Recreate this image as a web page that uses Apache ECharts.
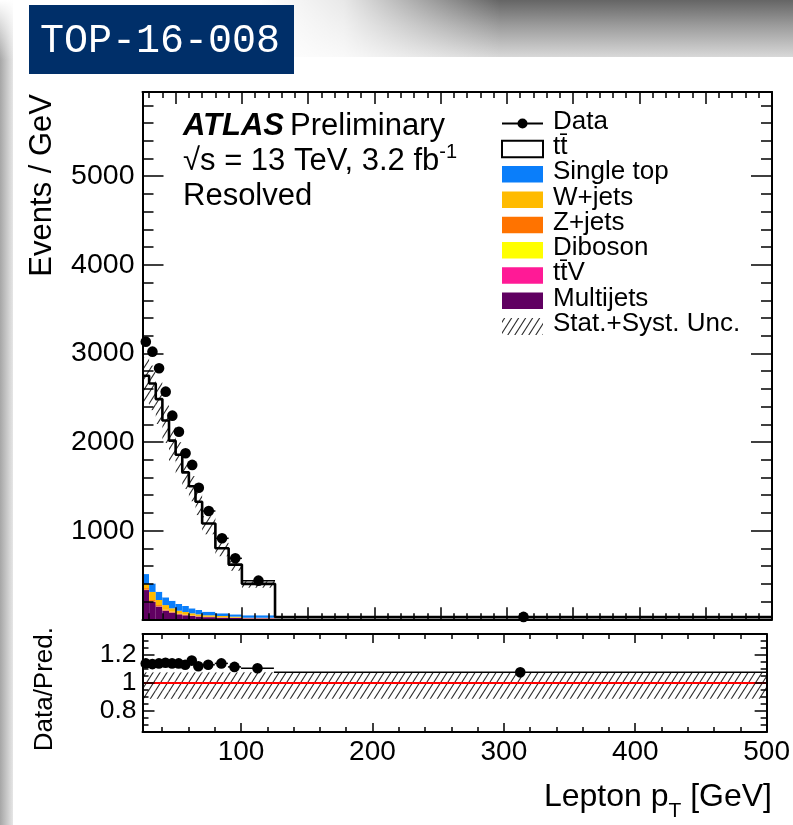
<!DOCTYPE html>
<html><head><meta charset="utf-8">
<script src="https://cdn.jsdelivr.net/npm/echarts@6/dist/echarts.min.js"></script>
<style>html,body{margin:0;padding:0;background:#fff;overflow:hidden}#c{width:793px;height:825px}</style>
</head><body><div id="c"></div>
<script>
// ---------------- data (per GeV) ----------------
const binEdges   = [25,30,35,40,45,50,55,60,65,70,80,90,100,125,500];
const dataVals   = [3133,3020,2833,2569,2298,2117,1874,1742,1485,1222,914,688,436,27];
const ttbar      = [2238,2256,2173,1996,1806,1684,1508,1378,1221,995,734,561,355,21.4];
const singleTop  = [113,96,94,87,86,76,68,56,49,41,31,26,27,2];
const wjets      = [45,92,57,50,38,32,29.5,24.5,20.7,16.6,15.5,11.6,6.2,0.8];
const zjets      = [18,18,14,10,8,6,5,4,3,3,2,2,1,0.2];
const diboson    = [2,2,1.5,1.5,1,1,1,1,0.8,0.6,0.5,0.4,0.3,0.05];
const ttV        = [2,2,2,2,2,2,1.5,1.5,1.5,1,1,1,0.5,0.05];
const multijets  = [330,195,143,97,75,56,45,37,30,24,18,15,10,0.5];
const uncUp      = [0.076,0.076,0.076,0.076,0.076,0.076,0.076,0.076,0.076,0.076,0.076,0.076,0.076,0.076];
const uncDown    = [0.113,0.113,0.113,0.113,0.113,0.113,0.113,0.113,0.113,0.113,0.113,0.113,0.113,0.113];
const ratioVals  = [1.14,1.135,1.14,1.145,1.14,1.14,1.13,1.16,1.12,1.13,1.14,1.115,1.105,1.076];
const xTickLabels     = [100,200,300,400,500];
const yTickLabels     = [1000,2000,3000,4000,5000];
const ratioTickLabels = [0.8,1,1.2];
const xMin = 25, xMax = 500, yMax = 5950, rMin = 0.65, rMax = 1.35;

// ---------------- helpers ----------------
const FONT = '"Liberation Sans", Arial, Helvetica, sans-serif';
function range(a, b, s){ const r=[]; for(let v=a; v<=b+1e-9; v+=s) r.push(Math.round(v*1000)/1000); return r; }

function makeHatch(){
  const w=7, h=11, c=document.createElement('canvas');
  c.width=w; c.height=h;
  const g=c.getContext('2d');
  g.strokeStyle='#2a2a2a'; g.lineWidth=1.1;
  for (const off of [-w,0,w]) {
    g.beginPath(); g.moveTo(off-1, h + h/w); g.lineTo(off+w+1, -h/w); g.stroke();
  }
  return {image:c, repeat:'repeat'};
}
const hatch = makeHatch();

function rectItem(style){
  return function(params, api){
    const p1 = api.coord([api.value(0), api.value(3)]);
    const p2 = api.coord([api.value(1), api.value(2)]);
    return {type:'rect', shape:{x:p1[0], y:p1[1], width:p2[0]-p1[0], height:p2[1]-p1[1]}, style:style};
  };
}
function pointItem(params, api){
  const c = api.coord([api.value(0), api.value(1)]);
  const a = api.coord([api.value(2), api.value(1)]);
  const b = api.coord([api.value(3), api.value(1)]);
  return {type:'group', children:[
    {type:'line', shape:{x1:a[0],y1:a[1],x2:b[0],y2:b[1]}, style:{stroke:'#000', lineWidth:1.5}},
    {type:'circle', shape:{cx:c[0], cy:c[1], r:5.3}, style:{fill:'#000'}}
  ]};
}

const nb = dataVals.length;
const comps = [
  {name:'Multijets',  vals:multijets, color:'#600061'},
  {name:'tt̄V',        vals:ttV,       color:'#ff1a96'},
  {name:'Diboson',    vals:diboson,   color:'#ffff00'},
  {name:'Z+jets',     vals:zjets,     color:'#ff7300'},
  {name:'W+jets',     vals:wjets,     color:'#ffbb00'},
  {name:'Single top', vals:singleTop, color:'#0a7efa'},
  {name:'tt̄',         vals:ttbar,     color:'#ffffff'}
];
const cum = new Array(nb).fill(0);
const series = [];
comps.forEach(c => {
  const d = [];
  for (let i=0;i<nb;i++){ const b=cum[i]; cum[i]+=c.vals[i]; d.push([binEdges[i], binEdges[i+1], b, cum[i]]); }
  series.push({type:'custom', name:c.name, xAxisIndex:0, yAxisIndex:0, silent:true, z:2,
    renderItem: rectItem({fill:c.color}), encode:{x:[0,1], y:[2,3]}, data:d});
});
const total = cum.slice();

// uncertainty band (main)
series.push({type:'custom', name:'Stat.+Syst. Unc.', xAxisIndex:0, yAxisIndex:0, silent:true, z:3,
  renderItem: rectItem({fill:hatch}), encode:{x:[0,1], y:[2,3]},
  data: total.map((t,i)=>[binEdges[i], binEdges[i+1], t*(1-uncDown[i]), t*(1+uncUp[i])])});

// MC outline
const outline = [];
total.forEach((t,i)=>{ outline.push([binEdges[i], t]); outline.push([binEdges[i+1], t]); });
series.push({type:'line', xAxisIndex:0, yAxisIndex:0, data:outline, symbol:'none', silent:true, z:4,
  lineStyle:{color:'#000', width:2.6}});

// data points
series.push({type:'custom', name:'Data', xAxisIndex:0, yAxisIndex:0, silent:true, z:5,
  renderItem: pointItem, encode:{x:[0,2,3], y:1},
  data: dataVals.map((v,i)=>[(binEdges[i]+binEdges[i+1])/2, v, binEdges[i], binEdges[i+1]])});

// ratio band
series.push({type:'custom', xAxisIndex:4, yAxisIndex:4, silent:true, z:3,
  renderItem: rectItem({fill:hatch}), encode:{x:[0,1], y:[2,3]},
  data: uncUp.map((u,i)=>[binEdges[i], binEdges[i+1], 1-uncDown[i], 1+u])});
// red line
series.push({type:'line', xAxisIndex:4, yAxisIndex:4, data:[[xMin,1],[xMax,1]], symbol:'none', silent:true, z:4,
  lineStyle:{color:'#ff0000', width:2.2}});
// ratio points
series.push({type:'custom', xAxisIndex:4, yAxisIndex:4, silent:true, z:5,
  renderItem: pointItem, encode:{x:[0,2,3], y:1},
  data: ratioVals.map((v,i)=>[(binEdges[i]+binEdges[i+1])/2, v, binEdges[i], binEdges[i+1]])});

// ---------------- axes ----------------
const black = '#000';
function xAx(grid, pos, ticks, len, line, labels){
  return {type:'value', gridIndex:grid, position:pos, min:xMin, max:xMax, z:10,
    axisLine:{show:line, onZero:false, lineStyle:{color:black, width:2}},
    axisTick:{show:true, inside:true, length:len, customValues:ticks, lineStyle:{color:black, width:1.5}},
    axisLabel: labels ? {show:true, customValues:labels, color:black, fontSize:28, fontFamily:FONT, margin:6} : {show:false},
    splitLine:{show:false}, minorTick:{show:false}};
}
function yAx(grid, pos, min, max, ticks, len, line, labels, margin, fs){
  return {type:'value', gridIndex:grid, position:pos, min:min, max:max, z:10,
    axisLine:{show:line, onZero:false, lineStyle:{color:black, width:2}},
    axisTick:{show:true, inside:true, length:len, customValues:ticks, lineStyle:{color:black, width:1.5}},
    axisLabel: labels ? {show:true, customValues:labels, color:black, fontSize:fs, fontFamily:FONT, margin:margin,
      formatter: v => String(v)} : {show:false},
    splitLine:{show:false}, minorTick:{show:false}};
}
const mx50 = range(50,500,50), mx10 = range(30,500,10);
const rx100 = range(100,500,100), rx20 = range(40,500,20);
const my1000 = range(0,5000,1000), my200 = range(200,5800,200);
const ry = [0.8,1,1.2], ry05 = range(0.7,1.3,0.05);

const xAxis = [
  xAx(0,'bottom',mx50,12,true,null), xAx(0,'bottom',mx10,6,false,null),
  xAx(0,'top',mx50,12,true,null),    xAx(0,'top',mx10,6,false,null),
  xAx(1,'bottom',rx100,9,true,xTickLabels), xAx(1,'bottom',rx20,5,false,null),
  xAx(1,'top',rx100,9,true,null),    xAx(1,'top',rx20,5,false,null)
];
const yAxis = [
  yAx(0,'left',0,yMax,my1000,21,true,yTickLabels,8,28.5), yAx(0,'left',0,yMax,my200,11,false,null),
  yAx(0,'right',0,yMax,my1000,21,true,null),            yAx(0,'right',0,yMax,my200,11,false,null),
  yAx(1,'left',rMin,rMax,ry,12,true,ratioTickLabels,6,26.5), yAx(1,'left',rMin,rMax,ry05,6,false,null),
  yAx(1,'right',rMin,rMax,ry,12,true,null),             yAx(1,'right',rMin,rMax,ry05,6,false,null)
];

// ---------------- decorations / texts ----------------
const G = echarts.graphic;
const graphics = [
  {type:'rect', z:-20, shape:{x:0,y:0,width:793,height:825}, style:{fill:'#ffffff'}},
  {type:'rect', z:-19, shape:{x:260,y:0,width:533,height:57},
    style:{fill:new G.LinearGradient(0,0,0,1,[{offset:0,color:'#656565'},{offset:0.45,color:'#9c9c9c'},{offset:1,color:'#d8d8d8'}])}},
  {type:'rect', z:-18, shape:{x:260,y:0,width:240,height:57},
    style:{fill:new G.LinearGradient(0,0,1,0,[{offset:0,color:'rgba(255,255,255,1)'},{offset:0.35,color:'rgba(255,255,255,0.85)'},{offset:1,color:'rgba(255,255,255,0)'}])}},
  {type:'rect', z:-17, shape:{x:0,y:0,width:13,height:825},
    style:{fill:new G.LinearGradient(0,0,1,0,[{offset:0,color:'#a6a6a6'},{offset:1,color:'#e6e6e6'}])}},
  {type:'rect', z:-17, shape:{x:0,y:0,width:13,height:60},
    style:{fill:new G.LinearGradient(0,0,0,1,[{offset:0,color:'rgba(255,255,255,1)'},{offset:1,color:'rgba(255,255,255,0)'}])}},
  {type:'rect', z:-16, shape:{x:13,y:57,width:780,height:768}, style:{fill:'#ffffff'}},
  {type:'rect', z:-15, shape:{x:29,y:5,width:265,height:69}, style:{fill:'#002f69'}},
  {type:'text', z:10, style:{x:40, y:41, text:'TOP-16-008', fill:'#ffffff', font:'40px "Liberation Mono", "DejaVu Sans Mono", monospace', verticalAlign:'middle'}},

  // ATLAS label
  {type:'text', z:10, style:{x:183, y:126, text:'ATLAS', fill:'#000', font:'italic bold 31px '+FONT, verticalAlign:'middle'}},
  {type:'text', z:10, style:{x:290, y:126, text:'Preliminary', fill:'#000', font:'31px '+FONT, verticalAlign:'middle'}},
  {type:'text', z:10, style:{x:183, y:161, text:'√s = 13 TeV, 3.2 fb{sup|-1}', fill:'#000', font:'31px '+FONT, verticalAlign:'middle',
    rich:{sup:{fontSize:20, fontFamily:FONT, fill:'#000', padding:[0,0,18,0]}}}},
  {type:'text', z:10, style:{x:183, y:196, text:'Resolved', fill:'#000', font:'31px '+FONT, verticalAlign:'middle'}},

  // axis titles
  {type:'text', z:10, x:42, y:94, rotation:Math.PI/2, style:{x:0, y:0, text:'Events / GeV', fill:'#000', font:'31px '+FONT, align:'right', verticalAlign:'middle'}},
  {type:'text', z:10, x:45, y:627, rotation:Math.PI/2, style:{x:0, y:0, text:'Data/Pred.', fill:'#000', font:'26px '+FONT, align:'right', verticalAlign:'middle'}},
  {type:'text', z:10, style:{x:772, y:797, text:'Lepton p{sub|T} [GeV]', fill:'#000', font:'32px '+FONT, align:'right', verticalAlign:'middle',
    rich:{sub:{fontSize:21, fontFamily:FONT, fill:'#000', padding:[28,0,0,0]}}}}
];

// legend (hand drawn to mimic ROOT)
const legRows = [
  {t:'Data', kind:'data'}, {t:'tt̄', kind:'box', fill:'#ffffff', stroke:'#000'},
  {t:'Single top', kind:'box', fill:'#0a7efa'}, {t:'W+jets', kind:'box', fill:'#ffbb00'},
  {t:'Z+jets', kind:'box', fill:'#ff7300'}, {t:'Diboson', kind:'box', fill:'#ffff00'},
  {t:'tt̄V', kind:'box', fill:'#ff1a96'}, {t:'Multijets', kind:'box', fill:'#600061'},
  {t:'Stat.+Syst. Unc.', kind:'hatch'}
];
const legY0 = 123.5, legDy = 25.3;
legRows.forEach((r,i)=>{
  const yc = legY0 + i*legDy;
  if (r.kind==='data'){
    graphics.push({type:'line', z:10, shape:{x1:502,y1:yc,x2:543,y2:yc}, style:{stroke:'#000', lineWidth:2}});
    graphics.push({type:'circle', z:10, shape:{cx:522.5, cy:yc, r:5}, style:{fill:'#000'}});
  } else if (r.kind==='box'){
    graphics.push({type:'rect', z:10, shape:{x:502,y:yc-8,width:41,height:16.5},
      style:{fill:r.fill, stroke:r.stroke||null, lineWidth:r.stroke?2:0}});
  } else {
    graphics.push({type:'rect', z:10, shape:{x:502,y:yc-8,width:41,height:17}, style:{fill:hatch}});
  }
  graphics.push({type:'text', z:10, style:{x:553, y:yc-2, text:r.t, fill:'#000', font:'26px '+FONT, verticalAlign:'middle'}});
});

const chart = echarts.init(document.getElementById('c'), null, {renderer:'canvas', width:793, height:825});
chart.setOption({
  animation:false,
  backgroundColor:'transparent',
  grid:[
    {left:142.5, top:92, width:629.5, height:527.3, containLabel:false},
    {left:142.5, top:634, width:629.5, height:98, containLabel:false}
  ],
  xAxis: xAxis,
  yAxis: yAxis,
  series: series,
  graphic: graphics
});
</script>
</body></html>
